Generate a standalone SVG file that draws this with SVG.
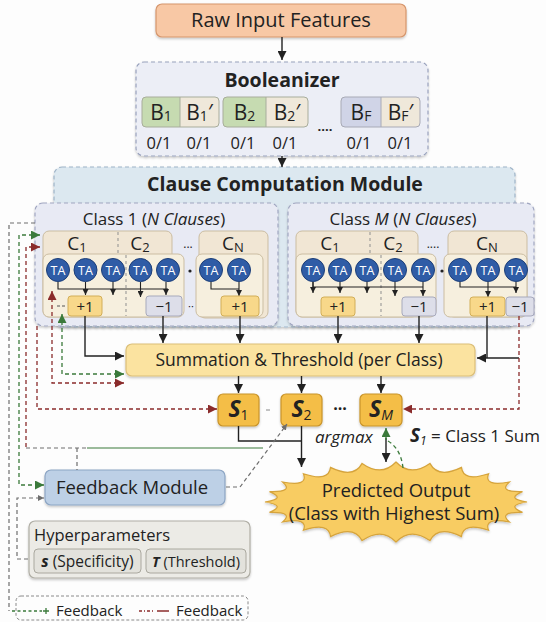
<svg xmlns="http://www.w3.org/2000/svg" width="546" height="622" viewBox="0 0 546 622">
  <style>
    text { font-family: "Open Sans", "Noto Sans", "DejaVu Sans", sans-serif; fill: #222; }
    .mid { text-anchor: middle; }
    .bold { font-weight: 700; }
    .it { font-style: italic; }
    .box { stroke-width: 1.2; filter: url(#sh); }
    .dash { stroke-dasharray: 4 3; }
    .wire { fill: none; stroke: #222; stroke-width: 1.4; }
    .thin { fill: none; stroke: #222; stroke-width: 1.1; }
    .gd { fill: none; stroke: #3b7a3b; stroke-width: 1.3; stroke-dasharray: 4 3; }
    .rd { fill: none; stroke: #8a2b2b; stroke-width: 1.3; stroke-dasharray: 4 3; }
    .yd { fill: none; stroke: #6e6e6e; stroke-width: 1.2; stroke-dasharray: 4 3; }
    .ta circle { fill: #2f5ca6; stroke: #1c3e78; stroke-width: 1; }
    .ta text { fill: #fff; font-size: 12.5px; text-anchor: middle; }
    .hdr { fill: #f1e6d4; stroke: #cbbda2; stroke-width: 1; }
    .inr { fill: #f6efde; stroke: #cbbda2; stroke-width: 1; }
    .plus { fill: #f8d88a; stroke: #d2ae58; stroke-width: 1; }
    .minus { fill: #dddee9; stroke: #a7a9bc; stroke-width: 1; }
    .sbox { fill: #f4be46; stroke: #c8932a; stroke-width: 1.2; }
    .vote { font-size: 15px; text-anchor: middle; }
    .div { stroke: #8f8f8f; stroke-width: 1; stroke-dasharray: 3 3; }
    .clause { font-size: 19px; text-anchor: middle; }
  </style>
  <defs>
    <filter id="sh" x="-10%" y="-10%" width="120%" height="130%">
      <feDropShadow dx="0" dy="1.5" stdDeviation="1.2" flood-color="#000" flood-opacity="0.22"/>
    </filter>
    <marker id="ah" viewBox="0 0 10 10" refX="10" refY="5" markerWidth="9" markerHeight="9" markerUnits="userSpaceOnUse" orient="auto-start-reverse">
      <path d="M0 0 L10 5 L0 10 z" fill="#222"/>
    </marker>
    <marker id="ahs" viewBox="0 0 10 10" refX="10" refY="5" markerWidth="6" markerHeight="6" markerUnits="userSpaceOnUse" orient="auto-start-reverse">
      <path d="M0 0 L10 5 L0 10 z" fill="#222"/>
    </marker>
    <marker id="ag" viewBox="0 0 10 10" refX="10" refY="5" markerWidth="9" markerHeight="9" markerUnits="userSpaceOnUse" orient="auto-start-reverse">
      <path d="M0 0 L10 5 L0 10 z" fill="#3b7a3b"/>
    </marker>
    <marker id="ar" viewBox="0 0 10 10" refX="10" refY="5" markerWidth="9" markerHeight="9" markerUnits="userSpaceOnUse" orient="auto-start-reverse">
      <path d="M0 0 L10 5 L0 10 z" fill="#8a2b2b"/>
    </marker>
    <marker id="ay" viewBox="0 0 10 10" refX="10" refY="5" markerWidth="6" markerHeight="6" markerUnits="userSpaceOnUse" orient="auto-start-reverse">
      <path d="M0 0 L10 5 L0 10 z" fill="#6e6e6e"/>
    </marker>
  </defs>

  <rect width="546" height="622" fill="#fdfdfd"/>

  <!-- Raw input -->
  <g id="raw-input">
    <rect class="box" x="156" y="4" width="250" height="33" rx="6" fill="#f8c8a5" stroke="#d6966c"/>
    <text class="mid" x="281" y="27" font-size="20">Raw Input Features</text>
  </g>

  <!-- Booleanizer -->
  <g id="booleanizer">
    <rect class="box dash" x="136" y="62" width="292" height="94" rx="8" fill="#eceef6" stroke="#98a1bc"/>
    <text class="mid bold" x="282" y="87" font-size="19.5">Booleanizer</text>
    <rect x="142" y="97" width="77" height="30" rx="4" fill="#efe8da"/>
    <path d="M146 97 H180 V127 H146 Q142 127 142 123 V101 Q142 97 146 97 Z" fill="#c6dbb1"/>
    <rect x="142" y="97" width="77" height="30" rx="4" fill="none" stroke="#a8ad9c"/>
    <line x1="180" y1="97" x2="180" y2="127" stroke="#a8ad9c"/>
    <rect x="223" y="97" width="85" height="30" rx="4" fill="#efe8da"/>
    <path d="M227 97 H266 V127 H227 Q223 127 223 123 V101 Q223 97 227 97 Z" fill="#c6dbb1"/>
    <rect x="223" y="97" width="85" height="30" rx="4" fill="none" stroke="#a8ad9c"/>
    <line x1="266" y1="97" x2="266" y2="127" stroke="#a8ad9c"/>
    <rect x="341" y="97" width="79" height="30" rx="4" fill="#efe8da"/>
    <path d="M345 97 H381 V127 H345 Q341 127 341 123 V101 Q341 97 345 97 Z" fill="#d0d4e7"/>
    <rect x="341" y="97" width="79" height="30" rx="4" fill="none" stroke="#a8aab6"/>
    <line x1="381" y1="97" x2="381" y2="127" stroke="#a8aab6"/>
    <g font-size="21">
      <text class="mid" x="161" y="120">B<tspan font-size="14" dy="1">1</tspan></text>
      <text class="mid" x="199.5" y="120">B<tspan font-size="14" dy="1">1</tspan><tspan dy="-1">′</tspan></text>
      <text class="mid" x="244.5" y="120">B<tspan font-size="14" dy="1">2</tspan></text>
      <text class="mid" x="287" y="120">B<tspan font-size="14" dy="1">2</tspan><tspan dy="-1">′</tspan></text>
      <text class="mid" x="361" y="120">B<tspan font-size="14" dy="1">F</tspan></text>
      <text class="mid" x="400.5" y="120">B<tspan font-size="14" dy="1">F</tspan><tspan dy="-1">′</tspan></text>
    </g>
    <text class="mid bold" x="325" y="131" font-size="13">....</text>
    <g font-size="16.5" text-anchor="middle">
      <text x="159" y="149">0/1</text>
      <text x="199" y="149">0/1</text>
      <text x="243" y="149">0/1</text>
      <text x="285" y="149">0/1</text>
      <text x="359" y="149">0/1</text>
      <text x="400" y="149">0/1</text>
    </g>
  </g>

  <!-- Clause computation module -->
  <g id="clause-module">
    <rect class="box dash" x="54" y="167" width="461" height="160" rx="8" fill="#dce8f0" stroke="#9db3c7"/>
    <text class="mid bold" x="285" y="191" font-size="19.5">Clause Computation Module</text>
  </g>

  <!-- Class 1 -->
  <g id="class-1">
    <rect class="box dash" x="35" y="203" width="243" height="123" rx="8" fill="#e8eaf4" stroke="#a0a6c0"/>
    <text class="mid" x="154" y="225" font-size="17">Class 1 (<tspan class="it">N Clauses</tspan>)</text>
    <rect class="hdr" x="43" y="231" width="129" height="86" rx="6"/>
    <line class="div" x1="118" y1="232" x2="118" y2="254"/>
    <rect class="inr" x="43" y="254" width="141" height="63" rx="6"/>
    <line class="div" x1="126" y1="255" x2="126" y2="316"/>
    <text class="clause" x="77" y="250">C<tspan font-size="13" dy="2">1</tspan></text>
    <text class="clause" x="140" y="250">C<tspan font-size="13" dy="2">2</tspan></text>
    <text class="mid" x="188" y="248" font-size="12">...</text>
    <rect class="hdr" x="199" y="231" width="69" height="87" rx="6"/>
    <rect class="inr" x="196" y="254" width="67" height="63" rx="6"/>
    <text class="clause" x="233" y="250">C<tspan font-size="13" dy="2">N</tspan></text>
    <g class="ta">
      <circle cx="58" cy="270" r="11.5"/><text x="58" y="274.5">TA</text>
      <circle cx="85.5" cy="270" r="11.5"/><text x="85.5" y="274.5">TA</text>
      <circle cx="113" cy="270" r="11.5"/><text x="113" y="274.5">TA</text>
      <circle cx="140.5" cy="270" r="11.5"/><text x="140.5" y="274.5">TA</text>
      <circle cx="168" cy="270" r="11.5"/><text x="168" y="274.5">TA</text>
      <circle cx="211" cy="270" r="11.5"/><text x="211" y="274.5">TA</text>
      <circle cx="239" cy="270" r="11.5"/><text x="239" y="274.5">TA</text>
    </g>
    <circle cx="190" cy="271" r="1.6" fill="#222"/>
    <path class="thin" d="M58 282 V289 H168"/>
    <path class="thin" d="M85.5 282 V295" marker-end="url(#ahs)"/>
    <path class="thin" d="M113 282 V295" marker-end="url(#ahs)"/>
    <path class="thin" d="M140.5 282 V297" marker-end="url(#ahs)"/>
    <path class="thin" d="M166 282 V295" marker-end="url(#ahs)"/>
    <path class="thin" d="M211 282 V289 H239"/>
    <path class="thin" d="M239 282 V296" marker-end="url(#ahs)"/>
    <line x1="57" y1="306" x2="67" y2="306" stroke="#555" stroke-dasharray="3 2"/>
    <rect class="plus" x="68" y="296" width="34" height="20" rx="3"/>
    <text class="vote" x="85" y="311.5">+1</text>
    <rect class="minus" x="146" y="296" width="36" height="20" rx="3"/>
    <text class="vote" x="164" y="311.5">−1</text>
    <text class="mid" x="191" y="310" font-size="11">··</text>
    <rect class="plus" x="221" y="296" width="38" height="20" rx="3"/>
    <text class="vote" x="240" y="311.5">+1</text>
  </g>

  <!-- Class M -->
  <g id="class-m">
    <rect class="box dash" x="288" y="203" width="246" height="123" rx="8" fill="#e8eaf4" stroke="#a0a6c0"/>
    <text class="mid" x="403" y="225" font-size="17">Class <tspan class="it">M</tspan> (<tspan class="it">N Clauses</tspan>)</text>
    <rect class="hdr" x="296" y="231" width="122" height="86" rx="6"/>
    <line class="div" x1="370" y1="232" x2="370" y2="254"/>
    <rect class="inr" x="296" y="254" width="140" height="63" rx="6"/>
    <line class="div" x1="381" y1="255" x2="381" y2="316"/>
    <text class="clause" x="330" y="250">C<tspan font-size="13" dy="2">1</tspan></text>
    <text class="clause" x="393" y="250">C<tspan font-size="13" dy="2">2</tspan></text>
    <text class="mid" x="433" y="248" font-size="12">....</text>
    <rect class="hdr" x="448" y="231" width="79" height="86" rx="6"/>
    <rect class="inr" x="444" y="254" width="83" height="63" rx="6"/>
    <text class="clause" x="487" y="250">C<tspan font-size="13" dy="2">N</tspan></text>
    <g class="ta">
      <circle cx="313" cy="270" r="11.5"/><text x="313" y="274.5">TA</text>
      <circle cx="340" cy="270" r="11.5"/><text x="340" y="274.5">TA</text>
      <circle cx="367" cy="270" r="11.5"/><text x="367" y="274.5">TA</text>
      <circle cx="395" cy="270" r="11.5"/><text x="395" y="274.5">TA</text>
      <circle cx="423" cy="270" r="11.5"/><text x="423" y="274.5">TA</text>
      <circle cx="460" cy="270" r="11.5"/><text x="460" y="274.5">TA</text>
      <circle cx="488" cy="270" r="11.5"/><text x="488" y="274.5">TA</text>
      <circle cx="516" cy="270" r="11.5"/><text x="516" y="274.5">TA</text>
    </g>
    <circle cx="442" cy="271" r="1.6" fill="#222"/>
    <path class="thin" d="M313 282 V287 H423"/>
    <path class="thin" d="M313 282 V293" marker-end="url(#ahs)"/>
    <path class="thin" d="M340 282 V293" marker-end="url(#ahs)"/>
    <path class="thin" d="M367 282 V293" marker-end="url(#ahs)"/>
    <path class="thin" d="M395 282 V296" marker-end="url(#ahs)"/>
    <path class="thin" d="M423 282 V296" marker-end="url(#ahs)"/>
    <path class="thin" d="M460 282 V287 H516"/>
    <path class="thin" d="M488 282 V297" marker-end="url(#ahs)"/>
    <path class="thin" d="M516 282 V293" marker-end="url(#ahs)"/>
    <rect class="plus" x="321" y="297" width="34" height="19" rx="3"/>
    <text class="vote" x="338" y="311.5">+1</text>
    <rect class="minus" x="402" y="297" width="34" height="19" rx="3"/>
    <text class="vote" x="419" y="311.5">−1</text>
    <rect class="plus" x="470" y="297" width="35" height="19" rx="3"/>
    <text class="vote" x="487.5" y="311.5">+1</text>
    <rect class="minus" x="506" y="297" width="28" height="19" rx="3"/>
    <text class="vote" x="520" y="311.5">−1</text>
  </g>

  <!-- Summation -->
  <g id="summation">
    <rect class="box" x="126" y="344" width="349" height="32" rx="6" fill="#fbe3a0" stroke="#dcbf78"/>
    <text class="mid" x="299" y="366" font-size="17.5">Summation &amp; Threshold (per Class)</text>
  </g>

  <!-- Class sums -->
  <g id="sum-s1">
    <rect class="sbox box" x="218" y="394" width="41" height="32" rx="5"/>
    <text class="mid" x="238.5" y="417"><tspan class="bold it" font-size="23">S</tspan><tspan font-size="14" dy="3">1</tspan></text>
  </g>
  <g id="sum-s2">
    <rect class="sbox box" x="281" y="394" width="41" height="32" rx="5"/>
    <text class="mid" x="301.5" y="417"><tspan class="bold it" font-size="23">S</tspan><tspan font-size="14" dy="3">2</tspan></text>
  </g>
  <g id="sum-sm">
    <rect class="sbox box" x="360" y="394" width="42" height="32" rx="5"/>
    <text class="mid" x="381" y="417"><tspan class="bold it" font-size="23">S</tspan><tspan class="it" font-size="14" dy="3">M</tspan></text>
  </g>
  <line x1="266" y1="410" x2="270" y2="410" stroke="#888" stroke-width="1"/>
  <text class="mid bold" x="340" y="414" font-size="16">···</text>

  <!-- Output -->
  <g id="predicted-output">
    <path class="box" fill="#f8cc62" stroke="#d6a43c" d="M527 502 Q505.1 505.3 522.5 512.4 Q497.6 511.6 509.4 522 Q483.3 517.2 488.6 530.3 Q463 521.8 461.5 536.6 Q438.1 525.1 429.9 540.6 Q410.4 526.8 396 542 Q381.6 526.8 362.1 540.6 Q353.9 525.1 330.5 536.6 Q329 521.8 303.4 530.3 Q308.7 517.2 282.6 522 Q294.4 511.6 269.5 512.4 Q286.9 505.3 265 502 Q286.9 498.7 269.5 491.6 Q294.4 492.4 282.6 482 Q308.7 486.8 303.4 473.7 Q329 482.2 330.5 467.4 Q353.9 478.9 362.1 463.4 Q381.6 477.2 396 462 Q410.4 477.2 429.9 463.4 Q438.1 478.9 461.5 467.4 Q463 482.2 488.6 473.7 Q483.3 486.8 509.4 482 Q497.6 492.4 522.5 491.6 Q505.1 498.7 527 502 Z"/>
    <text class="mid" x="396" y="497" font-size="18.5">Predicted Output</text>
    <text class="mid" x="394" y="520" font-size="18.5">(Class with Highest Sum)</text>
  </g>

  <!-- Feedback module -->
  <g id="feedback-module">
    <rect class="box" x="45" y="470" width="180" height="35" rx="6" fill="#bdd0e6" stroke="#8ca5c4"/>
    <text class="mid" x="132" y="494" font-size="18.5">Feedback Module</text>
  </g>

  <!-- Hyperparameters -->
  <g id="hyperparameters">
    <rect class="box" x="29" y="521" width="221" height="57" rx="6" fill="#ecebe6" stroke="#b0aea5"/>
    <text x="34" y="541" font-size="16.5">Hyperparameters</text>
    <rect x="34" y="549" width="107" height="24" rx="4" fill="#e3e2dc" stroke="#aaa89f"/>
    <rect x="146" y="549" width="100" height="24" rx="4" fill="#e3e2dc" stroke="#aaa89f"/>
    <text class="mid" x="87.5" y="566.5" font-size="15.5"><tspan class="bold it">s</tspan> (Specificity)</text>
    <text class="mid" x="196" y="566.5" font-size="14.5"><tspan class="bold it">T</tspan> (Threshold)</text>
  </g>

  <!-- Legend -->
  <g id="legend">
    <rect x="16" y="596" width="232" height="24" rx="5" fill="none" stroke="#8a8a8a" stroke-dasharray="3 2"/>
    <line x1="12" y1="611" x2="42" y2="611" stroke="#3b7a3b" stroke-width="1.3" stroke-dasharray="3 2.5"/>
    <path d="M43 611 H49 M46 608 V614" stroke="#3b7a3b" stroke-width="1.3"/>
    <text x="56" y="616" font-size="15">Feedback</text>
    <line x1="139" y1="611" x2="154" y2="611" stroke="#8a2b2b" stroke-width="1.3" stroke-dasharray="3 2 1 2"/>
    <line x1="157" y1="611" x2="169" y2="611" stroke="#8a2b2b" stroke-width="1.5"/>
    <text x="176" y="616" font-size="15">Feedback</text>
  </g>

  <!-- Connectors -->
  <g id="connectors">
    <path class="wire" d="M282 37 V60" marker-end="url(#ah)"/>
    <path class="wire" d="M282 156 V167" marker-end="url(#ah)"/>
    <path class="wire" d="M85 316 V356 H124" marker-end="url(#ah)"/>
    <path class="wire" d="M163 316 V343" marker-end="url(#ah)"/>
    <path class="wire" d="M240 316 V343" marker-end="url(#ah)"/>
    <path class="wire" d="M338 316 V343" marker-end="url(#ah)"/>
    <path class="wire" d="M419 316 V343" marker-end="url(#ah)"/>
    <path class="wire" d="M487 316 V358"/>
    <path class="wire" d="M519 358 H477" marker-end="url(#ah)"/>
    <path class="wire" d="M238.5 376 V393" marker-end="url(#ah)"/>
    <path class="wire" d="M301.5 376 V393" marker-end="url(#ah)"/>
    <path class="wire" d="M381 376 V393" marker-end="url(#ah)"/>
    <path class="wire" d="M238.5 426 V441 H301.5"/>
    <path class="wire" d="M301.5 426 V467" marker-end="url(#ah)"/>
    <path fill="none" stroke="#222" stroke-width="1.4" d="M386 438 V462" marker-end="url(#ah)"/>
    <path fill="none" stroke="#3b7a3b" stroke-width="1.4" d="M386 440 V428" marker-end="url(#ag)"/>
    <path class="gd" d="M388 441 Q401 449 403 468"/>
    <text class="it" x="315" y="443" font-size="17">argmax</text>
    <text x="410" y="442" font-size="17"><tspan class="bold it" font-size="19">S</tspan><tspan class="it" font-size="12" dy="3">1</tspan><tspan dy="-3"> = Class 1 Sum</tspan></text>

    <!-- feedback paths -->
    <path class="yd" d="M35 223 H9 V611"/>
    <path class="gd" d="M40 235 H19 V485 H44" marker-start="url(#ag)" marker-end="url(#ag)"/>
    <path class="rd" d="M40 247 H26 V448" marker-start="url(#ar)"/>
    <path class="yd" d="M26 448 H87"/>
    <path class="yd" d="M77 448 V470"/>
    <path fill="none" stroke="#3b7a3b" stroke-width="1.2" d="M87 448 H263"/>
    <path class="yd" d="M28 559 H17 V498 H44" marker-end="url(#ay)"/>
    <path class="yd" d="M226 487 H240 L287 424" marker-end="url(#ay)"/>
    <path class="gd" d="M62 314 V374 H124" marker-start="url(#ag)" marker-end="url(#ag)"/>
    <path class="rd" d="M52 291 V383 H124" marker-start="url(#ar)" marker-end="url(#ar)"/>
    <path class="rd" d="M37 326 V409 H217" marker-end="url(#ar)"/>
    <path class="rd" d="M519 316 V409 H403" marker-end="url(#ar)"/>
  </g>
</svg>
